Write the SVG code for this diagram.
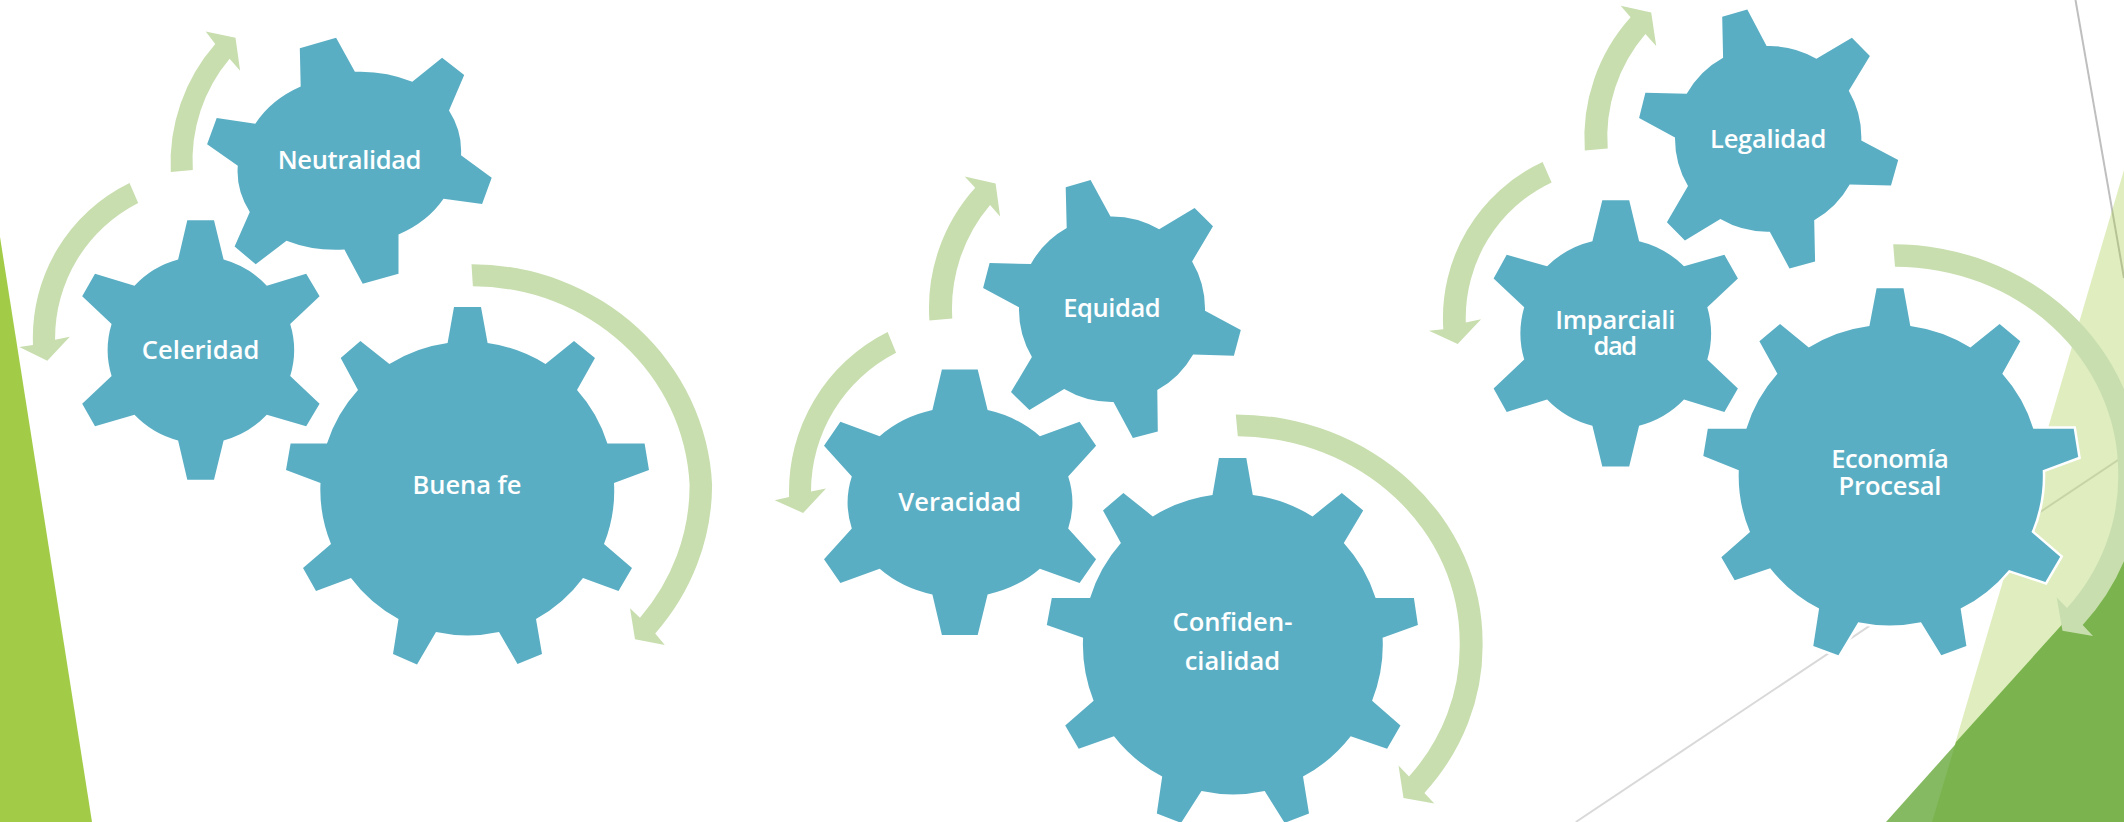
<svg xmlns="http://www.w3.org/2000/svg" width="2124" height="822" viewBox="0 0 2124 822">
<style>
.gear{fill:#5aaec4;stroke:#fff;stroke-width:5;paint-order:stroke;stroke-linejoin:miter}
.arr{fill:#c8deae}
.t{font-family:"Open Sans","Noto Sans",sans-serif;font-weight:600;font-size:25.5px;fill:#fff;text-anchor:middle}
</style>
<rect width="2124" height="822" fill="#fff"/>
<g id="background">
<polygon points="0,237 92,822 0,822" fill="#a2cc48"/>
<line x1="2075.5" y1="0" x2="2124" y2="278" stroke="#bfbfbf" stroke-width="2"/>
<line x1="1575.8" y1="822" x2="2124" y2="456" stroke="#d9d9d9" stroke-width="2"/>
<polygon points="2124,170 1932,822 2124,822" fill="#a2cc48" fill-opacity="0.35"/>
<polygon points="1886,822 2124,556 2124,822" fill="#86ba62"/>
<polygon points="1956,742 1932,822 2124,822 2124,556" fill="#7bb44e"/>
</g>
<g id="connectors">
<path class="arr" d="M170.8,172 A180,180 0 0 1 215.3,44 L205.7,31.5 L235.5,37.8 L240.1,70.8 L229.6,58.7 A158,158 0 0 0 192.8,169.9 Z"/>
<path class="arr" d="M129.5,183 A172,172 0 0 0 33,345 L19.3,347.1 L47.3,360.8 L69.8,336.7 L55.1,339.8 A152,152 0 0 1 138.2,202.9 Z"/>
<path class="arr" d="M471.5,264.3 A240,231 0 0 1 712.1,485 A240,231 0 0 1 655.2,633.5 L664.8,645 L635,639.2 L630,608.3 L640,617.7 A217,208 0 0 0 689.6,485 A217,208 0 0 0 472.9,286.3 Z"/>
<path class="arr" d="M929.4,320.6 A180,180 0 0 1 975.2,187.7 L964.7,176.6 L995.6,183.4 L1000.1,216.4 L990.1,204.9 A160,160 0 0 0 952.3,318.4 Z"/>
<path class="arr" d="M887.6,332.1 A178,178 0 0 0 789.1,497.1 L774.7,500.2 L803.1,513 L826,488.6 L811,491.6 A156,156 0 0 1 896.1,352.7 Z"/>
<path class="arr" d="M1235.8,414.4 A247,228 0 0 1 1482.6,642.9 A247,228 0 0 1 1424.4,792.9 L1434.3,803.6 L1403.5,798 L1398.5,765.4 L1409,776.6 A224,206 0 0 0 1459.7,642.9 A224,206 0 0 0 1237.8,436.3 Z"/>
<path class="arr" d="M1584.8,150.5 A180,180 0 0 1 1630.6,17.3 L1620.7,5.8 L1651.2,12.6 L1656.2,46.1 L1645.4,34.1 A158,158 0 0 0 1607.7,148.4 Z"/>
<path class="arr" d="M1542.6,162 A172,172 0 0 0 1443.3,329.2 L1429,330.8 L1457.7,343.9 L1481.1,319.3 L1465.8,322.4 A150,150 0 0 1 1551.6,182.4 Z"/>
<path class="arr" d="M1893.2,244.3 A248,228 0 0 1 2141,471.8 A248,228 0 0 1 2082.7,624.9 L2093,635.9 L2062.5,630.7 L2056.7,597.6 L2067,608.1 A223,206 0 0 0 2118.2,471.8 A223,206 0 0 0 1895,266.8 Z"/>
</g>
<g id="neutralidad">
<path class="gear" d="M300.7,86.5 L299.8,48.2 L336.1,37.8 L354.9,71.8 A112,89 0 0 1 412.3,81.8 L442.1,57.7 L464.2,75 L449,110.6 A112,89 0 0 1 461,155.2 L491.7,177.8 L482.1,204 L443.5,198.7 A112,89 0 0 1 398.5,234.4 L398.5,273.7 L362.7,283.7 L344.4,249.6 A112,89 0 0 1 286.5,240.7 L255.7,264.3 L234.6,246.5 L249.8,211.9 A112,89 0 0 1 237.8,165.7 L207.1,144.2 L216.7,118 L255.3,123.8 A112,89 0 0 1 300.7,86.5 Z"/>
<text class="t" x="349.6" y="168.9" textLength="143.7">Neutralidad</text>
</g>
<g id="celeridad">
<path class="gear" d="M178.1,259.6 L187.3,220.2 L214,220.2 L223.6,259.6 A92.5,90.5 0 0 1 266.8,285.8 L306.2,273.7 L319.6,296.3 L290.2,324 A92.5,90.5 0 0 1 290.2,376 L319.6,403.8 L306.2,426.3 L266.8,414.8 A92.5,90.5 0 0 1 223.6,440.5 L214,479.8 L187.3,479.8 L178.1,440.5 A92.5,90.5 0 0 1 134.5,414.8 L95,426.3 L82.2,403.8 L111.6,376 A92.5,90.5 0 0 1 111.6,324 L82.2,296.3 L95,273.7 L134.5,285.8 A92.5,90.5 0 0 1 178.1,259.6 Z"/>
<text class="t" x="200.6" y="359" textLength="117.5">Celeridad</text>
</g>
<g id="buena-fe">
<path class="gear" d="M447.6,343 L454,307 L481,307 L487.6,343 A147,145 0 0 1 545.5,364 L574,341 L595,358 L577,390 A147,145 0 0 1 607.4,443.6 L644.6,443.6 L649,470 L614,483 A147,145 0 0 1 604,544 L632,568 L618.5,591 L583,578 A147,145 0 0 1 536,619 L542,654 L517.5,664 L499,632 A147,145 0 0 1 436,632 L417,664.4 L393,654 L398.5,619 A147,145 0 0 1 351,578 L316,591 L303,568 L331,544 A147,145 0 0 1 320.5,483 L286,470 L290.6,443.6 L327,443.6 A147,145 0 0 1 358,390 L340.7,358 L360.4,341 L389.4,364 A147,145 0 0 1 447.6,343 Z"/>
<text class="t" x="467" y="494" textLength="108.8">Buena fe</text>
</g>
<g id="equidad">
<path class="gear" d="M1066.7,228 L1065.7,187.3 L1090.6,180 L1110.5,216.4 A93,93 0 0 1 1159.2,229.3 L1194.6,207.9 L1213,226.3 L1192.1,261.4 A93,93 0 0 1 1205,310.7 L1240.8,330 L1233.9,355.7 L1193.1,354.4 A93,93 0 0 1 1157.3,390 L1157.8,431.6 L1132.9,438 L1113.5,402 A93,93 0 0 1 1064.2,389.1 L1029.4,410.1 L1011,392.1 L1031.9,357 A93,93 0 0 1 1019,307.3 L983.1,288 L989.6,263.1 L1030.9,264 A93,93 0 0 1 1066.7,228 Z"/>
<text class="t" x="1112" y="317" textLength="97.5">Equidad</text>
</g>
<g id="veracidad">
<path class="gear" d="M932.4,410.1 L941.9,369.4 L977.7,369.4 L987.6,410.1 A112,96 0 0 1 1039.9,436.3 L1079.6,421.7 L1096.1,445.7 L1068.2,476.6 A112,96 0 0 1 1068.2,528.4 L1096.1,559.3 L1079.6,582.9 L1039.9,568.7 A112,96 0 0 1 987.6,594.4 L977.7,635.1 L941.9,635.1 L932.4,594.4 A112,96 0 0 1 879.7,568.7 L840.4,582.9 L824,559.3 L851.8,528.4 A112,96 0 0 1 851.8,476.6 L824,445.7 L840.4,421.7 L879.7,436.3 A112,96 0 0 1 932.4,410.1 Z"/>
<text class="t" x="959.8" y="510.9" textLength="122.9">Veracidad</text>
</g>
<g id="confidencialidad">
<path class="gear" d="M1212.5,495 L1218.9,458.1 L1246.3,458.1 L1252.8,495 A150,150 0 0 1 1312.5,516.4 L1341.8,492.9 L1363.2,510.4 L1343.8,543 A150,150 0 0 1 1375.6,597.9 L1413.9,597.9 L1417.9,624.9 L1382.6,637.7 A150,150 0 0 1 1372.1,700.7 L1400.5,725.6 L1387.1,748.7 L1350.7,736.3 A150,150 0 0 1 1303,776.6 L1309,813.4 L1284.6,822.9 L1264.7,791.1 A150,150 0 0 1 1201.5,791.1 L1181.1,822.9 L1156.8,813.4 L1162.2,776.6 A150,150 0 0 1 1114,736.3 L1078.7,748.7 L1065.2,725.6 L1093.6,700.7 A150,150 0 0 1 1083.1,637.7 L1046.8,624.9 L1051.8,597.9 L1090.1,597.9 A150,150 0 0 1 1120.9,543 L1103,510.4 L1123.4,492.9 L1152.8,516.4 A150,150 0 0 1 1212.5,495 Z"/>
<text class="t" x="1232.4" y="630.5" textLength="120">Confiden-</text>
<text class="t" x="1232.4" y="669.5" textLength="95.5">cialidad</text>
</g>
<g id="legalidad">
<path class="gear" d="M1723.1,57.7 L1722.2,16.8 L1747.3,9.4 L1766.6,46.1 A93,93 0 0 1 1816.4,58.7 L1851.9,37.7 L1869.9,56.1 L1848.8,90.7 A93,93 0 0 1 1861.3,140.5 L1898.2,159.9 L1891,185.6 L1849.7,184.5 A93,93 0 0 1 1814.2,220.2 L1815.1,261.6 L1789.5,268.4 L1769.8,231.7 A93,93 0 0 1 1720.4,219.1 L1684.9,240.6 L1666.9,222.3 L1688,186.1 A93,93 0 0 1 1675,137.4 L1639.1,118 L1645.4,92.8 L1686.7,93.8 A93,93 0 0 1 1723.1,57.7 Z"/>
<text class="t" x="1768.2" y="148.4" textLength="116.3">Legalidad</text>
</g>
<g id="imparcialidad">
<path class="gear" d="M1592.4,241.2 L1602.3,200.3 L1629.2,200.3 L1639.1,241.2 A94.7,94 0 0 1 1684,266.3 L1724.4,254.8 L1737.9,278.4 L1707.3,307.2 A94.7,94 0 0 1 1707.3,359.6 L1737.9,388.5 L1724.4,412.1 L1684,399.5 A94.7,94 0 0 1 1639.1,425.7 L1629.2,466.6 L1602.3,466.6 L1592.4,425.7 A94.7,94 0 0 1 1547.1,399.5 L1506.7,412.1 L1493.6,388.5 L1524.2,359.6 A94.7,94 0 0 1 1524.2,307.2 L1493.6,278.4 L1506.7,254.8 L1547.1,266.3 A94.7,94 0 0 1 1592.4,241.2 Z"/>
<text class="t" x="1615.3" y="328.7" textLength="119.9">Imparciali</text>
<text class="t" x="1615.3" y="355.4" textLength="43.6">dad</text>
</g>
<g id="economia-procesal">
<path class="gear" d="M1869.4,326.1 L1876.6,288.3 L1903.5,288.3 L1910.3,326.1 A152,148 0 0 1 1970.4,347.6 L1999.6,324 L2020.3,341.3 L2002.3,373.8 A152,148 0 0 1 2033.3,428.8 L2073.7,428.8 L2078.2,457.1 L2042.7,470.2 A152,148 0 0 1 2031.5,532.1 L2060.2,556.7 L2045.4,581.9 L2009,569.9 A152,148 0 0 1 1960.6,608.6 L1966.4,645.9 L1941.3,655.3 L1921,622.3 A152,148 0 0 1 1858.2,622.3 L1838.4,655.3 L1813.3,645.9 L1819.1,608.6 A152,148 0 0 1 1770.2,568.3 L1734.7,580.3 L1721.3,557.3 L1750,532.1 A152,148 0 0 1 1738.8,470.2 L1703.3,456.1 L1707.8,428.8 L1746.4,428.8 A152,148 0 0 1 1777.4,373.8 L1759.4,341.3 L1780.1,324 L1808.8,347.6 A152,148 0 0 1 1869.4,326.1 Z"/>
<text class="t" x="1890" y="467.6" textLength="117.6">Economía</text>
<text class="t" x="1890" y="494.9" textLength="102.8">Procesal</text>
</g>
</svg>
